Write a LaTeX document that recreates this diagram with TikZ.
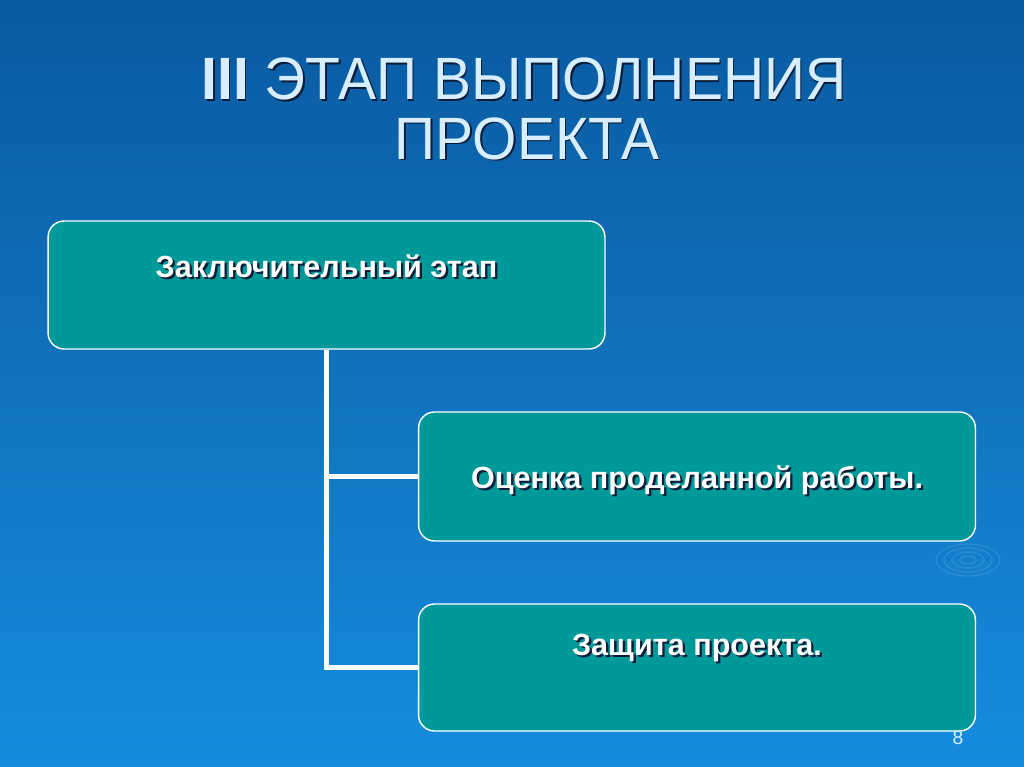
\documentclass[tikz,border=0pt]{standalone}
\usepackage{fontspec}
\setmainfont{Liberation Sans}
\newfontfamily\titlefont[FakeStretch=0.955]{Liberation Sans}
\usetikzlibrary{positioning}
\definecolor{bgtop}{RGB}{10,90,160}
\definecolor{bgbot}{RGB}{22,140,222}
\definecolor{tealbox}{RGB}{0,153,153}
\definecolor{titlecol}{RGB}{214,238,255}
\definecolor{shadowcol}{RGB}{10,28,55}
\tikzstyle{stagebox} = [draw=white,line width=0.8pt,fill=tealbox,rounded corners=0.32cm,minimum width=11.14cm,minimum height=2.56cm,inner sep=0]
\tikzstyle{boxtext} = [inner sep=0,font=\bfseries\fontsize{17.4}{20}\selectfont]
\tikzstyle{ttl} = [inner sep=0,anchor=base,font=\titlefont\fontsize{34}{34}\selectfont]
\tikzstyle{link} = [draw=white,line width=2.8pt]
\tikzstyle{ripple} = [draw=white,opacity=0.12,line width=0.6pt]
% text with a drop shadow: name, position, style, shift, text
\newcommand{\shadowed}[5]{%
  \node[#3,text=shadowcol] (#1s) at ([xshift=#4,yshift=-#4]#2) {#5};
  \node[#3,text=white] (#1) at (#2) {#5};}

\begin{document}
\begin{tikzpicture}[x=0.02cm,y=-0.02cm]
      \shade[top color=bgtop,bottom color=bgbot] (0,0) rectangle (1024,767);
      \useasboundingbox (0,0) rectangle (1024,767);
      % faint ripples
      \foreach \r in {8,16,24,32}
        \draw[ripple] (968,560) ellipse ({\r} and {\r*0.5});
      % title
      \node[ttl,text=shadowcol] (title1s) at (525.5,101.5) {{\bfseries III} ЭТАП ВЫПОЛНЕНИЯ};
      \node[ttl,text=titlecol] (title1) at (524,100) {{\bfseries III} ЭТАП ВЫПОЛНЕНИЯ};
      \node[ttl,text=shadowcol] (title2s) at (528.5,160.5) {ПРОЕКТА};
      \node[ttl,text=titlecol] (title2) at (527,159) {ПРОЕКТА};
      % boxes
      \node[stagebox] (final) at (326.5,285) {};
      \node[stagebox,minimum height=2.58cm] (review) at (697,476.5) {};
      \node[stagebox,minimum height=2.54cm] (defence) at (697,667.5) {};
      \draw[link] (final.south) |- (review.west);
      \draw[link] (final.south) |- (defence.west);
      \shadowed{finalt}{final.north}{boxtext,yshift=-0.92cm}{1.3pt}{Заключительный этап}
      \shadowed{reviewt}{review.center}{boxtext,yshift=-0.07cm}{1.3pt}{Оценка проделанной работы.}
      \shadowed{defencet}{defence.center}{boxtext,yshift=0.39cm}{1.3pt}{Защита проекта.}
      % page number
      \node[inner sep=0,text=titlecol,font=\fontsize{11}{13}\selectfont] (page) at (958,738) {8};
\end{tikzpicture}
\end{document}
